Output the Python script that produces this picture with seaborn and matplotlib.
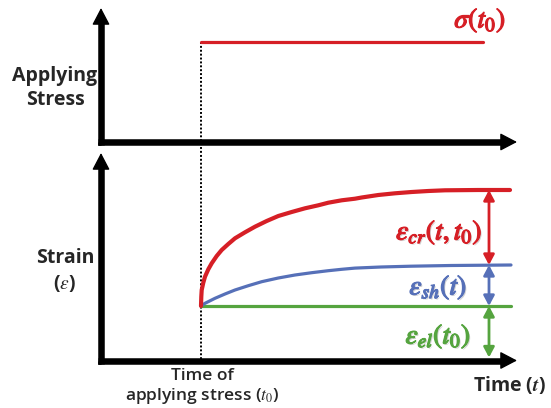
import numpy as np
import pandas as pd
import seaborn as sns
import matplotlib
matplotlib.use('Agg')
import matplotlib.pyplot as plt
import matplotlib.patheffects as pe

# time in arbitrary units, t0 = 1
t0 = 1.0

# applied stress (top panel)
stress_t = [1.0, 3.82]
stress_val = [1.0, 1.0]

# strain components (bottom panel)
el_t = [1.0, 4.1]
el_val = [0.545, 0.545]

sh_t = [1.0, 1.04, 1.14, 1.24, 1.34, 1.473, 1.607, 1.773, 1.94, 2.107,
        2.273, 2.407, 2.54, 2.8, 3.1, 3.5, 4.1]
sh_val = [0.545, 0.572, 0.622, 0.665, 0.705, 0.748, 0.788, 0.825, 0.855,
          0.878, 0.898, 0.912, 0.924, 0.935, 0.943, 0.95, 0.955]

cr_t = [1.0, 1.003, 1.007, 1.023, 1.04, 1.073, 1.107, 1.157, 1.207, 1.273,
        1.34, 1.44, 1.54, 1.657, 1.773, 1.907, 2.04, 2.173, 2.273, 2.407,
        2.54, 2.607, 2.773, 2.94, 3.107, 3.273, 3.44, 3.77, 4.09]
cr_val = [0.545, 0.638, 0.705, 0.778, 0.838, 0.912, 0.972, 1.045, 1.105,
          1.165, 1.222, 1.282, 1.338, 1.395, 1.445, 1.485, 1.522, 1.552,
          1.578, 1.602, 1.618, 1.63, 1.655, 1.672, 1.685, 1.695, 1.702,
          1.705, 1.705]

RED = '#d61f26'
BLUE = '#5670b8'
GREEN = '#55a43f'

sns.set_theme(style='white')
plt.rcParams['font.family'] = ['Open Sans', 'DejaVu Sans']
plt.rcParams['mathtext.fontset'] = 'stix'

W, H = 551, 408
fig = plt.figure(figsize=(W / 100, H / 100), dpi=100)
fig.patch.set_facecolor('white')

# axes boxes in pixels: origin and arrow tips
ax_top = fig.add_axes([101 / W, (H - 142) / H, 416 / W, 134 / H])
ax_bot = fig.add_axes([101 / W, (H - 360.5) / H, 416 / W, 207.5 / H])
ax_top.set_xlim(0, 4.16)
ax_top.set_ylim(0, 1.34)
ax_bot.set_xlim(0, 4.16)
ax_bot.set_ylim(0, 2.075)


def axis_arrows(ax, w_px, h_px):
    lw = 4.7
    half = lw / 2 * 100 / 72
    hx = 15 / w_px
    hy = 15 / h_px
    ax.plot([0, 0, 1 - hx], [1 - hy, 0, 0],
            transform=ax.transAxes, color='black', lw=lw, clip_on=False,
            solid_joinstyle='miter', solid_capstyle='butt', zorder=5)
    ax.plot([0, 0], [0, -half / h_px], transform=ax.transAxes,
            color='black', lw=lw, clip_on=False, solid_capstyle='butt', zorder=5)
    ax.plot([-half / w_px, 0], [0, 0], transform=ax.transAxes,
            color='black', lw=lw, clip_on=False, solid_capstyle='butt', zorder=5)
    head = dict(arrowstyle='-|>,head_length=1.05,head_width=0.55', lw=1,
                color='black', mutation_scale=10, shrinkA=0, shrinkB=0)
    ax.annotate('', xy=(1, 0), xytext=(1 - 2 * hx, 0), xycoords='axes fraction',
                arrowprops=head, zorder=6, annotation_clip=False)
    ax.annotate('', xy=(0, 1), xytext=(0, 1 - 2 * hy), xycoords='axes fraction',
                arrowprops=head, zorder=6, annotation_clip=False)


axis_arrows(ax_top, 416, 134)
axis_arrows(ax_bot, 416, 207.5)

# dotted line at t0 through both panels
ax_top.plot([t0, t0], [1.0, -0.11], color='black', lw=1.4, ls=(0, (1, 1)),
            clip_on=False, zorder=1)
ax_bot.plot([t0, t0], [-0.025, 2.075], color='black', lw=1.4, ls=(0, (1, 1)),
            clip_on=False, zorder=1)

# stress
sns.lineplot(x=stress_t, y=stress_val, ax=ax_top, color=RED, lw=2.3,
             estimator=None, sort=False)

# strain
sns.lineplot(x=el_t, y=el_val, ax=ax_bot, color=GREEN, lw=2.3,
             estimator=None, sort=False)
sns.lineplot(x=sh_t, y=sh_val, ax=ax_bot, color=BLUE, lw=2.3,
             estimator=None, sort=False)
sns.lineplot(x=cr_t, y=cr_val, ax=ax_bot, color=RED, lw=3,
             estimator=None, sort=False)

# component arrows
ta = 3.88
for lo, hi, c in [(sh_val[-1], cr_val[-1], RED),
                  (el_val[-1], sh_val[-1], BLUE),
                  (0.03, el_val[-1], GREEN)]:
    ax_bot.annotate('', xy=(ta, hi), xytext=(ta, lo),
                    arrowprops=dict(arrowstyle='<|-|>,head_length=0.6,head_width=0.32',
                                    color=c, lw=2, mutation_scale=10,
                                    shrinkA=0, shrinkB=0))


def bold_fx(c, shadow=True):
    fx = [pe.withStroke(linewidth=0.9, foreground=c)]
    if shadow:
        fx = [pe.withSimplePatchShadow(offset=(1, -1), shadow_rgbFace='gray',
                                       alpha=0.35)] + fx
    return fx


ax_bot.text(3.38, 1.285, r'$\varepsilon_{cr}(t,t_0)$', color=RED,
            fontsize=20, ha='center', va='center', path_effects=bold_fx(RED))
ax_bot.text(3.37, 0.735, r'$\varepsilon_{sh}(t)$', color=BLUE,
            fontsize=20, ha='center', va='center', path_effects=bold_fx(BLUE))
ax_bot.text(3.37, 0.245, r'$\varepsilon_{el}(t_0)$', color=GREEN,
            fontsize=20, ha='center', va='center', path_effects=bold_fx(GREEN))
ax_top.text(3.79, 1.22, r'$\sigma(t_0)$', color=RED,
            fontsize=20, ha='center', va='center',
            path_effects=bold_fx(RED, shadow=False))

for ax in (ax_top, ax_bot):
    ax.set_axis_off()

fig.text(55 / W, 1 - 88 / H, 'Applying\nStress', ha='center', va='center',
         fontsize=14, fontweight='bold', linespacing=1.3)
fig.text(65 / W, 1 - 271 / H, 'Strain\n(' + r'$\varepsilon$' + ')', ha='center',
         va='center', fontsize=14, fontweight='bold', linespacing=1.3)
fig.text(202 / W, 1 - 387 / H, 'Time of\napplying stress (' + r'$t_0$' + ')',
         ha='center', va='center', fontsize=12.5, linespacing=1.15,
         fontweight='semibold')
fig.text(509 / W, 1 - 385 / H, 'Time (' + r'$\boldsymbol{t}$' + ')', ha='center',
         va='center', fontsize=14, fontweight='bold')

fig.savefig('out.png', dpi=100, facecolor='white')
